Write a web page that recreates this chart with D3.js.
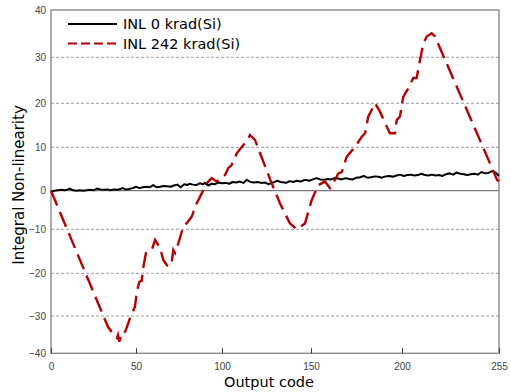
<!DOCTYPE html>
<html>
<head>
<meta charset="utf-8">
<script src="https://cdn.jsdelivr.net/npm/d3@7"></script>
<style>
  body { margin: 0; background: #fff; }
  svg { display: block; }
</style>
</head>
<body>
<div class="chart"></div>
<script>
// INL before / after irradiation
const codes0 = [0, 2, 4, 6, 8, 10, 11, 13, 15, 17, 19, 21, 23, 25, 27, 29, 31, 33, 35, 37, 39, 41, 42, 44, 46, 48,
  50, 52, 54, 56, 58, 60, 62, 64, 66, 68, 70, 72, 74, 76, 78, 80, 81, 83, 85, 87, 89, 90, 92, 94, 96, 98,
  100, 102, 104, 106, 108, 110, 112, 114, 116, 118, 120, 122, 124, 126, 128, 130, 131, 133, 135, 136, 138, 140,
  142, 144, 146, 147, 149, 151, 153, 155, 157, 159, 161, 163, 165, 167, 169, 171, 173, 175, 177, 179, 181, 183,
  185, 187, 189, 191, 193, 195, 197, 199, 201, 203, 205, 207, 209, 211, 213, 215, 217, 219, 221, 223, 225, 227,
  229, 231, 233, 235, 237, 239, 241, 243, 245, 247, 249, 251, 253, 255];
const inl0 = [-0.2, 0.0, 0.1, 0.2, 0.1, 0.3, 0.5, 0.1, 0.0, 0.1, 0.0, 0.1, 0.2, 0.1, 0.5, 0.3, 0.2, 0.3, 0.1, 0.3, 0.2, 0.4, 0.6, 0.3, 0.4, 0.6,
  0.9, 0.6, 0.8, 0.9, 0.8, 1.3, 0.8, 0.9, 1.1, 1.0, 0.9, 1.2, 1.4, 0.8, 1.5, 1.3, 1.6, 1.4, 1.3, 1.7, 1.5, 1.8, 1.2, 1.6, 1.5, 1.9,
  1.7, 1.8, 1.6, 2.0, 1.9, 2.1, 1.8, 2.5, 2.0, 1.9, 2.0, 1.8, 1.9, 1.5, 1.8, 2.1, 2.3, 2.0, 1.9, 1.8, 2.2, 2.0,
  2.3, 2.1, 2.4, 2.5, 2.3, 2.6, 2.9, 2.6, 2.5, 2.7, 2.6, 2.9, 2.8, 2.6, 2.9, 2.7, 2.6, 3.0, 3.1, 3.4, 3.0, 3.1,
  3.3, 3.2, 3.0, 3.3, 3.4, 3.2, 3.5, 3.7, 3.4, 3.6, 3.7, 3.5, 3.6, 3.9, 3.6, 3.5, 3.7, 3.5, 3.6, 3.4, 3.8, 4.0,
  3.7, 4.2, 3.9, 3.8, 3.6, 3.8, 3.9, 3.7, 4.3, 4.0, 4.1, 4.5, 4.2, 3.4];

const codes242 = [0, 33.5, 37.6, 38.8, 39.4, 40.2, 41.2, 42.3, 44.5, 46.5, 49.4, 50.4, 51.9, 53.3, 54.3, 55.8, 57.2,
  59.2, 61.1, 64, 65.9, 67.9, 68.8, 70.8, 71.7, 72.7, 74.6, 77.5, 79.5, 82.4, 85.3, 88.2, 91.1, 94, 96.9, 99.8,
  101.7, 103.5, 105.4, 108.3, 112, 114.8, 115.7, 118.5, 127.9, 132.6, 138.2, 142, 146.6, 150.4, 154, 157.7, 160.4,
  162.2, 165, 166.9, 169.6, 174.2, 177.9, 179.7, 181.5, 185.2, 187.9, 190.7, 193.4, 196.2, 197.1, 198.9, 200.7,
  203.6, 206.4, 208.3, 210.2, 212.1, 214, 216.8, 218.7, 249.9, 253.9, 255];
const inl242 = [0, -32.9, -35.5, -35.9, -35.1, -36.9, -35.4, -35.5, -33.2, -30.5, -27.8, -24.6, -22.0, -21.8, -18.5, -15.4, -15.1,
  -14.7, -12.4, -14.3, -17.0, -18.1, -18.5, -17.4, -14.7, -15.4, -13.2, -9.3, -8.4, -6.7, -3.3, -0.7, 1.7, 2.9, 2.1, 2.9,
  3.6, 5.2, 5.9, 8.6, 10.5, 12.0, 12.8, 11.7, 1.7, -3.3, -8.5, -10, -8.5, -2.4, 1.3, 2.1, 0.6,
  1.7, 4.0, 4.3, 7.8, 10.1, 12.4, 13.2, 17.0, 20.0, 18.1, 15.5, 13.2, 13.2, 16.2, 17.0, 21.4,
  23.3, 25.5, 25.5, 29.4, 32.9, 34.4, 35.1, 34.4, 6.3, 2.5, 2.2];

const xTicks = [0, 50, 100, 150, 200, 255];
const yTicks = [-40, -30, -20, -10, 0, 10, 20, 30, 40];
const gridTicks = [-30, -20, -10, 10, 20, 30];
const seriesNames = ["INL 0 krad(Si)", "INL 242 krad(Si)"];

const width = 511, height = 392;
const red = "#b30000";

const svg = d3.select("div.chart")
  .append("svg")
  .attr("width", width)
  .attr("height", height);

// the source bitmap is slightly stretched, so the scales follow the drawn tick positions
const x = d3.scaleLinear()
  .domain(xTicks)
  .range([51, 136, 222, 311, 402, 499]);
const y = d3.scaleLinear()
  .domain(yTicks)
  .range([353.3, 316, 273.3, 229.3, 190.7, 147.3, 103.3, 57.3, 10]);

// dashed grid
svg.append("g")
  .selectAll("line")
  .data(gridTicks)
  .join("line")
  .attr("x1", x(0))
  .attr("x2", x(255))
  .attr("y1", d => y(d))
  .attr("y2", d => y(d))
  .attr("stroke", "#999")
  .attr("stroke-width", 1)
  .attr("stroke-dasharray", "3,2");

// zero line
svg.append("line")
  .attr("x1", x(0)).attr("x2", x(255))
  .attr("y1", y(0)).attr("y2", y(0))
  .attr("stroke", "#777")
  .attr("stroke-width", 1.2);

// frame
svg.append("rect")
  .attr("x", x(0))
  .attr("y", y(40))
  .attr("width", x(255) - x(0))
  .attr("height", y(-40) - y(40))
  .attr("fill", "none")
  .attr("stroke", "#8a8a8a")
  .attr("stroke-width", 1.4);

// axes
const xAxis = svg.append("g")
  .attr("transform", `translate(0,${y(-40)})`)
  .call(d3.axisBottom(x).tickValues(xTicks).tickFormat(d3.format("d")).tickSizeInner(-5).tickSizeOuter(0).tickPadding(10));
xAxis.select(".domain").remove();
xAxis.selectAll(".tick line").attr("stroke", "#333");
xAxis.selectAll(".tick text")
  .attr("fill", "#444")
  .style("font", "10px 'Liberation Sans', Arial, sans-serif");

const yAxis = svg.append("g")
  .attr("transform", `translate(${x(0)},0)`)
  .call(d3.axisLeft(y).tickValues(yTicks).tickSize(0).tickPadding(5));
yAxis.select(".domain").remove();
yAxis.selectAll(".tick text")
  .attr("fill", "#444")
  .style("font", "10px 'Liberation Sans', Arial, sans-serif");

// lines
const line = d3.line()
  .x(d => x(d[0]))
  .y(d => y(d[1]));

svg.append("path")
  .datum(d3.zip(codes0, inl0))
  .attr("d", line)
  .attr("fill", "none")
  .attr("stroke", "#000")
  .attr("stroke-width", 2)
  .attr("stroke-linejoin", "round");

svg.append("path")
  .datum(d3.zip(codes242, inl242))
  .attr("d", line)
  .attr("fill", "none")
  .attr("stroke", red)
  .attr("stroke-width", 2.4)
  .attr("stroke-dasharray", "16,7");

// legend
const legend = svg.append("g")
  .attr("class", "legend")
  .style("font", "14.5px 'DejaVu Sans', Verdana, sans-serif");

seriesNames.forEach((name, i) => {
  const ly = 24 + i * 19.5;
  legend.append("line")
    .attr("x1", 68).attr("x2", 117)
    .attr("y1", ly).attr("y2", ly)
    .attr("stroke", i === 0 ? "#000" : red)
    .attr("stroke-width", i === 0 ? 2 : 2.2)
    .attr("stroke-dasharray", i === 0 ? null : "9,4");
  legend.append("text")
    .attr("x", 123)
    .attr("y", ly + 5)
    .attr("fill", "#000")
    .text(name);
});

// axis titles
svg.append("text")
  .attr("x", 269)
  .attr("y", 387)
  .attr("text-anchor", "middle")
  .style("font", "14.5px 'DejaVu Sans', Verdana, sans-serif")
  .text("Output code");

svg.append("text")
  .attr("transform", "translate(24,185) rotate(-90)")
  .attr("text-anchor", "middle")
  .style("font", "15px 'DejaVu Sans', Verdana, sans-serif")
  .text("Integral Non-linearity");
</script>
</body>
</html>
